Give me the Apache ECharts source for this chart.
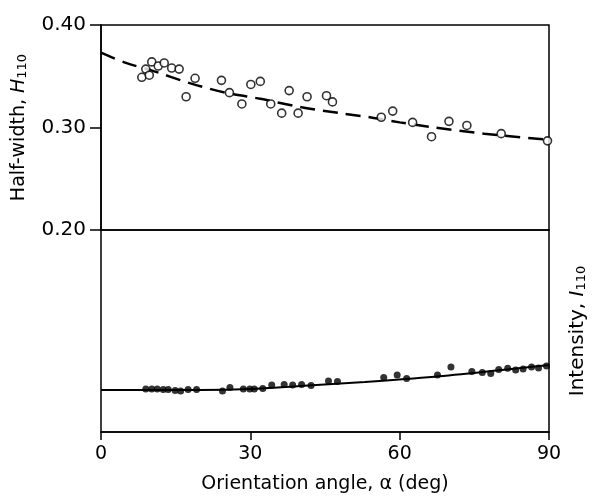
<!DOCTYPE html>
<html>
<head>
<meta charset="utf-8">
<script src="https://cdn.jsdelivr.net/npm/echarts@6/dist/echarts.min.js"></script>
<style>
html,body{margin:0;padding:0;background:#fff;}
#c{width:592px;height:497px;}
</style>
</head>
<body>
<div id="c"></div>
<script>
// Half-width H110 (open circles)
const angleH = [8.2, 9.0, 9.7, 10.2, 11.5, 12.7, 14.2, 15.7, 17.1, 18.9, 24.2, 25.8, 28.3, 30.1, 32.0, 34.1, 36.3, 37.8, 39.6, 41.4, 45.3, 46.5, 56.3, 58.6, 62.6, 66.4, 69.9, 73.5, 80.4, 89.7];
const halfWidth = [0.349, 0.357, 0.351, 0.364, 0.360, 0.363, 0.358, 0.357, 0.330, 0.348, 0.346, 0.334, 0.323, 0.342, 0.345, 0.323, 0.314, 0.336, 0.314, 0.330, 0.331, 0.325, 0.310, 0.316, 0.305, 0.291, 0.306, 0.302, 0.294, 0.287];
// dashed fit curve for H110
const fitHAngle = [0, 5, 10, 18, 25, 32, 40, 48, 54, 60, 67, 77, 90];
const fitH = [0.373, 0.363, 0.356, 0.343, 0.334, 0.328, 0.320, 0.314, 0.310, 0.305, 0.300, 0.294, 0.288];
// Intensity I110 (filled dots), arbitrary units
const angleI = [9.0, 10.2, 11.3, 12.5, 13.5, 14.9, 16.0, 17.5, 19.2, 24.4, 25.9, 28.6, 29.9, 30.8, 32.5, 34.3, 36.8, 38.5, 40.3, 42.2, 45.7, 47.5, 56.8, 59.5, 61.4, 67.6, 70.3, 74.5, 76.6, 78.3, 79.9, 81.7, 83.3, 84.8, 86.5, 87.9, 89.5];
const intensity = [0.213, 0.213, 0.213, 0.210, 0.210, 0.205, 0.203, 0.210, 0.210, 0.203, 0.220, 0.213, 0.213, 0.213, 0.215, 0.233, 0.235, 0.233, 0.235, 0.230, 0.252, 0.250, 0.270, 0.282, 0.265, 0.282, 0.322, 0.300, 0.295, 0.289, 0.310, 0.315, 0.307, 0.312, 0.322, 0.317, 0.327];
// solid fit line for I110
const fitIAngle = [0, 20, 30, 40, 53, 67, 80, 90];
const fitI = [0.208, 0.208, 0.213, 0.228, 0.248, 0.274, 0.306, 0.332];
// tick values
const xTicks = [0, 30, 60, 90];
const yTicks = [0.20, 0.30, 0.40];

const F = 'DejaVu Sans';
const zip = (a, b) => a.map((v, i) => [v, b[i]]);

const chart = echarts.init(document.getElementById('c'), null, {renderer: 'canvas'});
chart.setOption({
  animation: false,
  backgroundColor: '#fff',
  grid: [
    {left: 101, right: 43, top: 25, height: 205, show: true, borderColor: '#000', borderWidth: 1.5, backgroundColor: 'transparent', containLabel: false, outerBoundsMode: 'none'},
    {left: 101, right: 43, top: 230, height: 202, show: true, borderColor: '#000', borderWidth: 1.5, backgroundColor: 'transparent', containLabel: false, outerBoundsMode: 'none'}
  ],
  xAxis: [
    {gridIndex: 0, type: 'value', min: xTicks[0], max: xTicks[xTicks.length - 1], show: false},
    {gridIndex: 1, type: 'value', min: xTicks[0], max: xTicks[xTicks.length - 1], interval: 30,
     axisLine: {show: true, lineStyle: {color: '#000', width: 1.5}},
     axisTick: {show: true, inside: false, length: 8, lineStyle: {color: '#000', width: 1.5}},
     axisLabel: {color: '#000', fontFamily: F, fontSize: 19, margin: 13},
     splitLine: {show: false},
     name: 'Orientation angle, α (deg)', nameLocation: 'middle', nameGap: 43,
     nameTextStyle: {color: '#000', fontFamily: F, fontSize: 19}}
  ],
  yAxis: [
    {gridIndex: 0, type: 'value', min: yTicks[0], max: yTicks[yTicks.length - 1], interval: 0.1,
     axisLine: {show: true, lineStyle: {color: '#000', width: 1.5}},
     axisTick: {show: true, inside: false, length: 11, lineStyle: {color: '#000', width: 1.5}},
     axisLabel: {color: '#000', fontFamily: F, fontSize: 20, margin: 15, formatter: v => v.toFixed(2)},
     splitLine: {show: false},
     name: '{a|Half-width, }{i|H}{s|110}', nameLocation: 'middle', nameGap: 72, nameRotate: 90,
     nameTextStyle: {color: '#000', rich: {
       a: {fontFamily: F, fontSize: 19, color: '#000', lineHeight: 26, verticalAlign: 'bottom'},
       i: {fontFamily: F, fontSize: 19, fontStyle: 'italic', color: '#000', lineHeight: 26, verticalAlign: 'bottom'},
       s: {fontFamily: F, fontSize: 13, color: '#000', lineHeight: 22, verticalAlign: 'bottom'}
     }}},
    {gridIndex: 1, type: 'value', position: 'right', min: 0, max: 1,
     axisLine: {show: false}, axisTick: {show: false}, axisLabel: {show: false}, splitLine: {show: false},
     name: '{a|Intensity, }{i|I}{s|110}', nameLocation: 'middle', nameGap: 13, nameRotate: 90,
     nameTextStyle: {color: '#000', rich: {
       a: {fontFamily: F, fontSize: 20, color: '#000', lineHeight: 26, verticalAlign: 'bottom'},
       i: {fontFamily: F, fontSize: 20, fontStyle: 'italic', color: '#000', lineHeight: 26, verticalAlign: 'bottom'},
       s: {fontFamily: F, fontSize: 13, color: '#000', lineHeight: 22, verticalAlign: 'bottom'}
     }}}
  ],
  series: [
    {type: 'line', xAxisIndex: 0, yAxisIndex: 0, data: zip(fitHAngle, fitH), smooth: 0.3, showSymbol: false,
     lineStyle: {color: '#000', width: 2.5, type: [15, 8]}, z: 2},
    {type: 'scatter', xAxisIndex: 0, yAxisIndex: 0, data: zip(angleH, halfWidth), symbol: 'circle', symbolSize: 8,
     itemStyle: {color: '#fff', borderColor: '#000', borderWidth: 1.6}, z: 3},
    {type: 'line', xAxisIndex: 1, yAxisIndex: 1, data: zip(fitIAngle, fitI), smooth: 0.3, showSymbol: false,
     lineStyle: {color: '#000', width: 2}, z: 2},
    {type: 'scatter', xAxisIndex: 1, yAxisIndex: 1, data: zip(angleI, intensity), symbol: 'circle', symbolSize: 7,
     itemStyle: {color: '#000'}, z: 3}
  ]
});
</script>
</body>
</html>
